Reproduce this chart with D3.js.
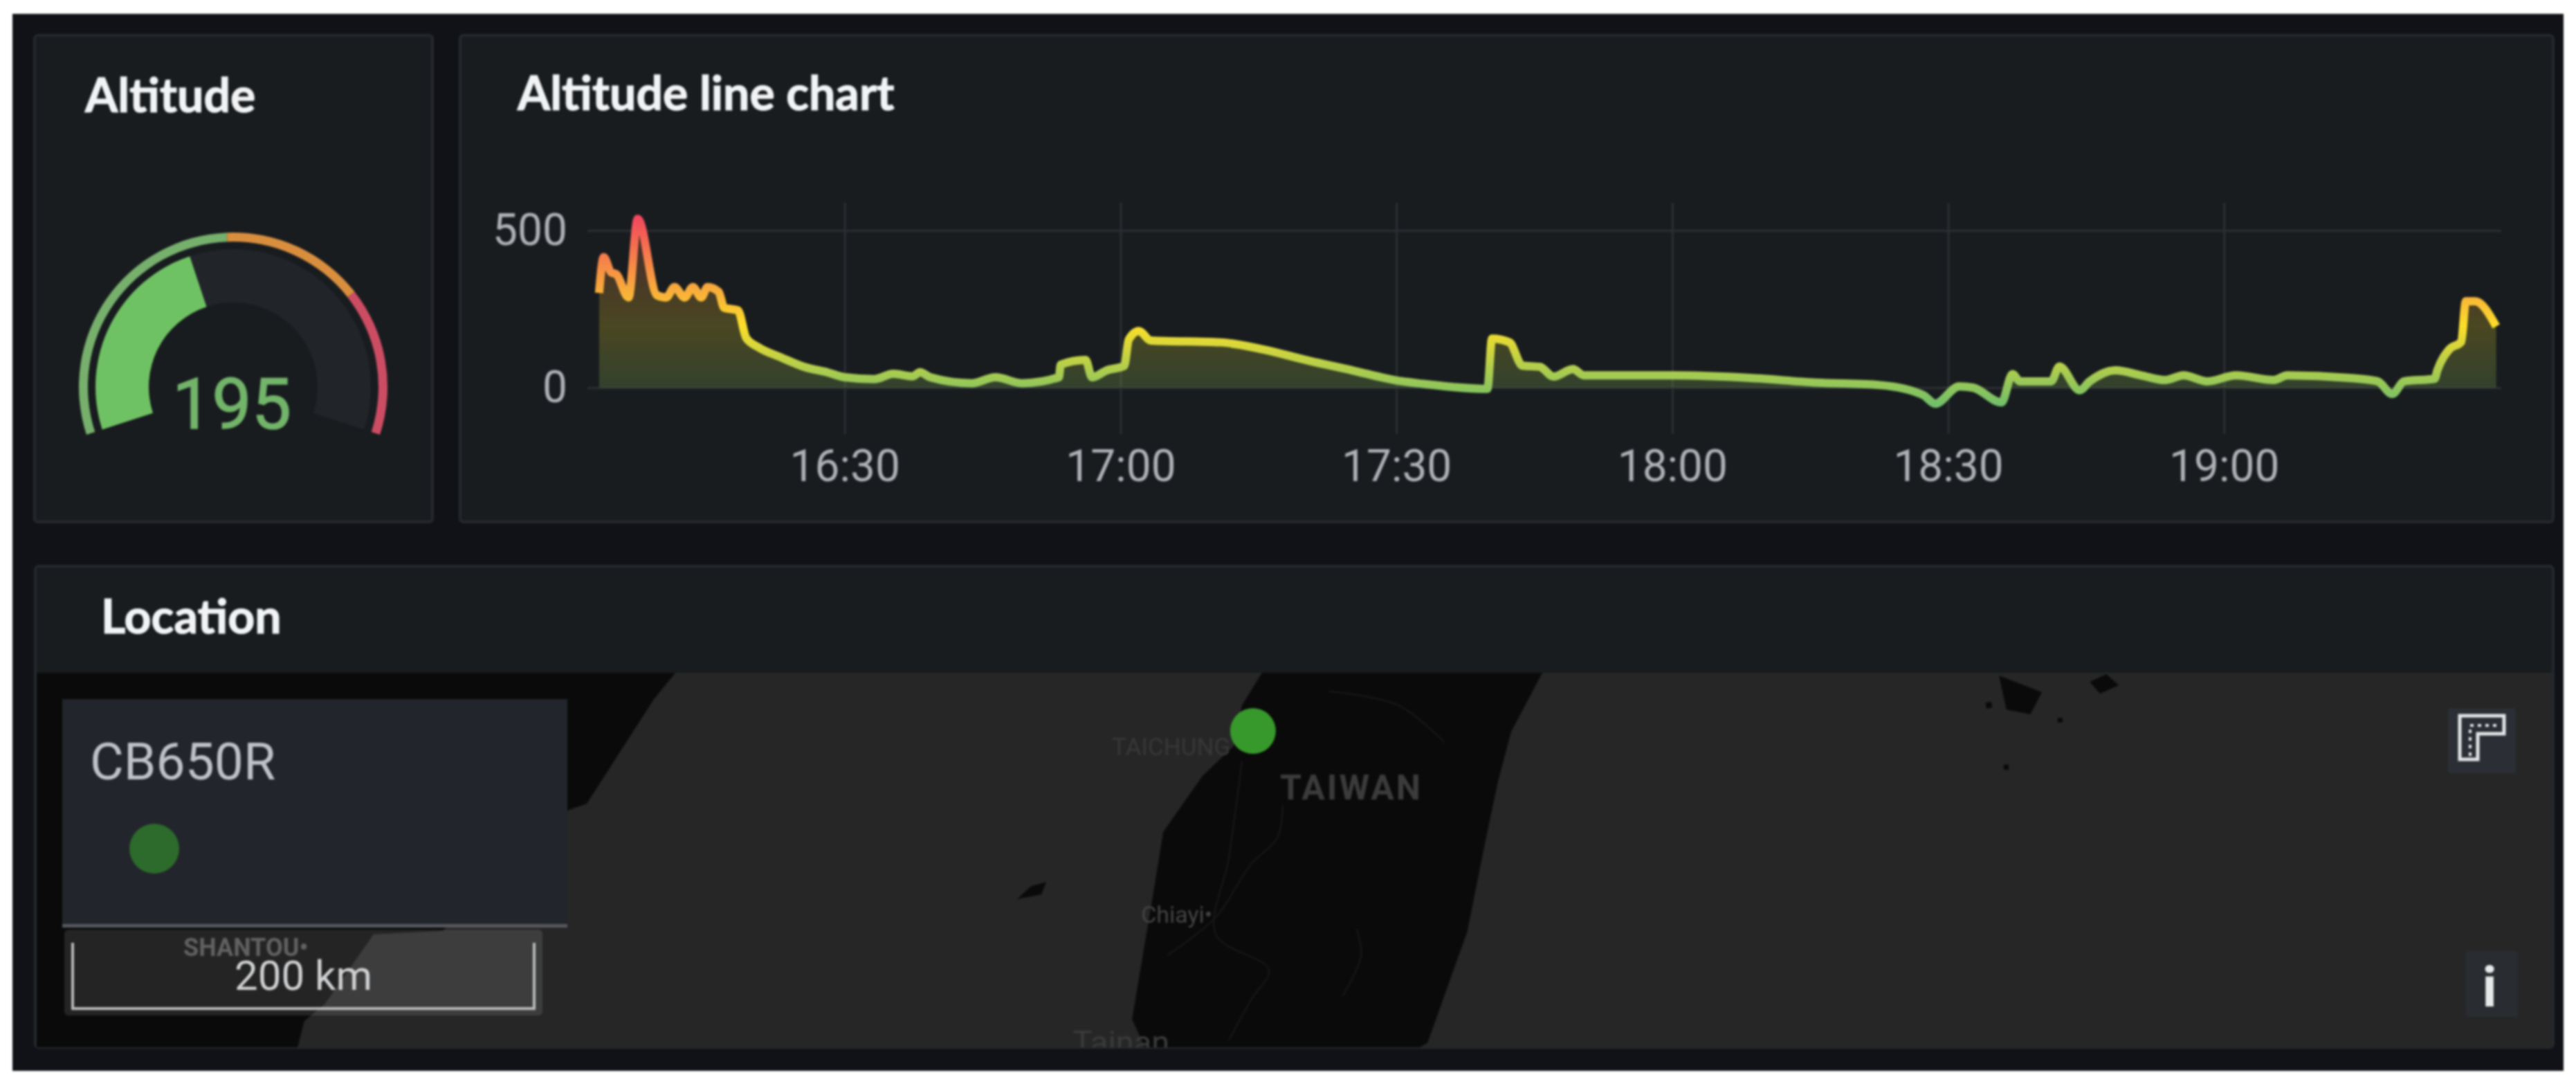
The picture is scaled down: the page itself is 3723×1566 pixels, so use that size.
<!DOCTYPE html>
<html>
<head>
<meta charset="utf-8">
<title>Altitude dashboard</title>
<script src="https://cdn.jsdelivr.net/npm/d3@7"></script>
<style>
  html, body { margin: 0; padding: 0; background: #fff; }
  svg { display: block; filter: blur(1.6px); }
  .panel-title { font-family: Lato, sans-serif; font-weight: 700; font-size: 68px; fill: #f2f3f4; stroke: #f2f3f4; stroke-width: 1.2px; }
  .axis text { font-family: Roboto, sans-serif; font-size: 64px; fill: #aeb0b5; }
  .axis line { stroke: #2b2e32; stroke-width: 3; }
  .axis .domain { display: none; }
</style>
</head>
<body>
<script>
// Altitude series: minutes after 16:00 and metres
const minutes = [3.3, 3.8, 4.6, 5.2, 6.5, 7.5, 9.6, 10.6, 11.5, 12.6, 13.5, 14.4, 15.1, 16.3, 16.9, 18.4, 19.3, 20.6, 23.1, 25.6, 28.2, 30, 33.2, 35.3, 37.4, 38.2, 39.3, 43.8, 46.4, 49.3, 53.3, 53.5, 56.2, 56.9, 58.5, 60.4, 60.9, 62, 63.3, 70.9, 75.6, 80.4, 85.2, 90, 92.9, 99.9, 100.4, 102.3, 103.7, 105.6, 107.1, 109.2, 110.4, 120.3, 128.4, 135.6, 142.6, 147.3, 148.6, 151.2, 152.7, 155.8, 157, 157.8, 161.2, 162.1, 164.3, 165.4, 168.2, 171, 173.6, 175.6, 178.2, 181.3, 185.4, 186.9, 193.6, 196.7, 198.3, 199.6, 202.9, 203.2, 204.5, 205.8, 206.3, 207.3, 209.6]
const altitude = [301, 415, 367, 360, 287, 537, 294, 287, 320, 287, 320, 287, 320, 305, 254, 246, 158, 129, 96, 66, 48, 33, 27, 44, 36, 49, 33, 14, 33, 14, 33, 73, 88, 33, 55, 69, 153, 180, 150, 144, 121, 86, 55, 23, 12, -4, 156, 144, 70, 66, 35, 59, 39, 39, 31, 16, 8, -24, -51, 4, 0, -47, 43, 20, 20, 67, -8, 20, 55, 39, 24, 39, 20, 39, 24, 39, 31, 20, -20, 20, 28, 55, 122, 146, 275, 275, 195]
const xTickLabels = ["16:30", "17:00", "17:30", "18:00", "18:30", "19:00"]
const yTickValues = [0, 500]

// Gauge
const gaugeValue = 195
const gaugeDomain = [0, 470]
const thresholdBreaks = [0, 230, 348, 470]
const thresholdColors = ["#76b06c", "#d98e3e", "#cc4d63"]

// Map features, in km from the top left corner of the map
const chinaCoast = [[0, 0], [276.8, 0], [267.5, 11.4], [238.4, 56.7], [230.6, 59.4], [176, 111.8], [146, 113.3], [125, 143.3], [116, 150.8], [113, 162.5], [0, 162.5]]
const taiwanCoast = [[531, 0], [652.5, 0], [639, 25.5], [633.3, 47], [627.6, 74], [620, 112], [602.7, 160.4], [598.8, 162.5], [480.4, 162.5], [474.7, 150], [484.3, 93], [488.2, 69], [505.2, 44.7], [518.7, 31.8], [522.3, 14.1]]
const islands = [
  [[424.9, 98], [430.9, 92.4], [437.5, 90.6], [435.4, 96]],
  [[850.4, 1.2], [869, 8.4], [864, 18], [853.6, 15.9]],
  [[889.7, 3.9], [897, 0.6], [902.3, 5.4], [894.2, 9]],
  [[844.5, 13], [847, 12.5], [847.5, 15], [845, 15.5]],
  [[875.8, 19.5], [878, 19.5], [878, 21.5], [875.8, 21.5]],
  [[852.4, 39.8], [854.6, 39.8], [854.6, 42], [852.4, 42]],
]
const roads = [
  [[540, 57.3], [537.7, 71.4], [526.3, 82.8], [511, 105.8], [490, 122.3]],
  [[522.3, 38.4], [516.6, 80.4], [511, 113.3], [534, 128.6], [526.3, 141.5], [516.6, 159.2]],
  [[572, 111], [574, 122.3], [566, 140]],
  [[560, 8], [590, 14], [610, 30]],
]
const mapLabels = [
  { text: "TAICHUNG", km: [466, 35.7], size: 35, weight: 400, color: "#373737", spacing: 0 },
  { text: "TAIWAN", km: [538.8, 54.9], size: 50, weight: 700, color: "#3b3b3b", spacing: 3 },
  { text: "Chiayi•", km: [478.6, 108.2], size: 34, weight: 400, color: "#434343", spacing: 0 },
  { text: "Tainan", km: [449, 165], size: 47, weight: 400, color: "#3a3a3a", spacing: 0 },
  { text: "SHANTOU•", km: [63.6, 122.6], size: 36, weight: 700, color: "#4e4e4e", spacing: 0 },
]
const deviceName = "CB650R"
const deviceKm = [527.1, 25.2]
const scaleBarKm = 200

const width = 3723,
  height = 1566

const svg = d3.select("body").append("svg").attr("width", width).attr("height", height)
const defs = svg.append("defs")

svg.append("rect").attr("x", 18).attr("y", 20).attr("width", 3687).attr("height", 1527).attr("fill", "#111217")

// Panels
const panels = [
  { x: 50, y: 51, w: 575, h: 703, title: "Altitude", tx: 123, ty: 162 },
  { x: 665, y: 51, w: 3025, h: 703, title: "Altitude line chart", tx: 748, ty: 159 },
  { x: 51, y: 818, w: 3639, h: 695, title: "Location", tx: 146, ty: 915 },
]
panels.forEach((p) => {
  svg
    .append("rect")
    .attr("x", p.x)
    .attr("y", p.y)
    .attr("width", p.w)
    .attr("height", p.h)
    .attr("rx", 5)
    .attr("fill", "#181c1f")
    .attr("stroke", "#25282d")
    .attr("stroke-width", 4)
  svg.append("text").attr("class", "panel-title").attr("x", p.tx).attr("y", p.ty).text(p.title)
})

// Gauge
const gauge = svg.append("g").attr("transform", "translate(337,559)")
const gaugeAngle = d3
  .scaleLinear()
  .domain(gaugeDomain)
  .range([(-108 * Math.PI) / 180, (108 * Math.PI) / 180])
const arc = d3.arc()

gauge
  .append("path")
  .attr("fill", "#212429")
  .attr("d", arc({ innerRadius: 122, outerRadius: 199, startAngle: gaugeAngle(gaugeDomain[0]), endAngle: gaugeAngle(gaugeDomain[1]) }))
gauge
  .append("path")
  .attr("fill", "#6fc263")
  .attr("d", arc({ innerRadius: 122, outerRadius: 199, startAngle: gaugeAngle(gaugeDomain[0]), endAngle: gaugeAngle(gaugeValue) }))
thresholdColors.forEach((color, i) => {
  gauge
    .append("path")
    .attr("fill", color)
    .attr("d", arc({ innerRadius: 210, outerRadius: 223, startAngle: gaugeAngle(thresholdBreaks[i]), endAngle: gaugeAngle(thresholdBreaks[i + 1]) }))
})
gauge
  .append("text")
  .attr("x", -2)
  .attr("y", 60)
  .attr("text-anchor", "middle")
  .attr("font-family", "Roboto, sans-serif")
  .attr("font-size", 102)
  .attr("fill", "#72b469")
  .attr("stroke", "#72b469")
  .attr("stroke-width", 1.5)
  .text(gaugeValue)

// Line chart
const toTime = d3.timeParse("%H:%M")
const startTime = toTime("16:00")
const atMinute = (m) => new Date(+startTime + m * 60000)
const series = minutes.map((m, i) => ({ time: atMinute(m), value: altitude[i] }))

const x = d3
  .scaleTime()
  .domain([toTime("16:00"), toTime("19:30")])
  .range([822, 3613])
const y = d3.scaleLinear().domain([0, 500]).range([560, 333])

const [gridLeft, gridRight, gridTop, gridBottom] = [849, 3615, 293, 627]

svg
  .append("g")
  .attr("class", "axis")
  .attr("transform", `translate(0,${gridBottom})`)
  .call(
    d3
      .axisBottom(x)
      .tickValues(xTickLabels.map(toTime))
      .tickFormat(d3.timeFormat("%H:%M"))
      .tickSize(-(gridBottom - gridTop))
      .tickPadding(23),
  )
svg
  .append("g")
  .attr("class", "axis")
  .attr("transform", `translate(${gridLeft},0)`)
  .call(d3.axisLeft(y).tickValues(yTickValues).tickSize(-(gridRight - gridLeft)).tickPadding(29))

// Green to yellow to red by height, as in the Grafana continuous scheme
const gradient = defs
  .append("linearGradient")
  .attr("id", "altitude-gradient")
  .attr("gradientUnits", "userSpaceOnUse")
  .attr("x1", 0)
  .attr("x2", 0)
  .attr("y1", y(d3.min(altitude)))
  .attr("y2", y(d3.max(altitude)))
gradient.append("stop").attr("offset", "0%").attr("stop-color", "#73bf69")
gradient.append("stop").attr("offset", "42%").attr("stop-color", "#fade2a")
gradient.append("stop").attr("offset", "100%").attr("stop-color", "#f2495c")

svg
  .append("path")
  .datum(series)
  .attr("fill", "url(#altitude-gradient)")
  .attr("fill-opacity", 0.22)
  .attr(
    "d",
    d3
      .area()
      .curve(d3.curveMonotoneX)
      .x((d) => x(d.time))
      .y0(y(0))
      .y1((d) => y(Math.max(d.value, 0))),
  )
svg
  .append("path")
  .datum(series)
  .attr("fill", "none")
  .attr("stroke", "url(#altitude-gradient)")
  .attr("stroke-width", 12)
  .attr("stroke-linejoin", "round")
  .attr(
    "d",
    d3
      .line()
      .curve(d3.curveMonotoneX)
      .x((d) => x(d.time))
      .y((d) => y(d.value)),
  )

// Map
const mapLeft = 53,
  mapTop = 972,
  mapRight = 3688,
  mapBottom = 1513
const pxPerKm = 3.335
const mapX = d3
  .scaleLinear()
  .domain([0, (mapRight - mapLeft) / pxPerKm])
  .range([mapLeft, mapRight])
const mapY = d3
  .scaleLinear()
  .domain([0, (mapBottom - mapTop) / pxPerKm])
  .range([mapTop, mapBottom])
const mapLine = d3
  .line()
  .x((d) => mapX(d[0]))
  .y((d) => mapY(d[1]))

defs
  .append("clipPath")
  .attr("id", "map-clip")
  .append("rect")
  .attr("x", mapLeft)
  .attr("y", mapTop)
  .attr("width", mapRight - mapLeft)
  .attr("height", mapBottom - mapTop)

const map = svg.append("g").attr("clip-path", "url(#map-clip)")
map
  .append("rect")
  .attr("x", mapLeft)
  .attr("y", mapTop)
  .attr("width", mapRight - mapLeft)
  .attr("height", mapBottom - mapTop)
  .attr("fill", "#262626")

map
  .selectAll(".land")
  .data([chinaCoast, taiwanCoast, ...islands])
  .enter()
  .append("path")
  .attr("class", "land")
  .attr("fill", "#0a0a0a")
  .attr("d", (d) => mapLine(d) + "Z")

map
  .selectAll(".road")
  .data(roads)
  .enter()
  .append("path")
  .attr("class", "road")
  .attr("fill", "none")
  .attr("stroke", "#191919")
  .attr("stroke-width", 2)
  .attr("d", mapLine.curve(d3.curveCatmullRom))
mapLine.curve(d3.curveLinear)

map
  .selectAll(".place")
  .data(mapLabels)
  .enter()
  .append("text")
  .attr("class", "place")
  .attr("x", (d) => mapX(d.km[0]))
  .attr("y", (d) => mapY(d.km[1]))
  .attr("font-family", "Roboto, sans-serif")
  .attr("font-size", (d) => d.size)
  .attr("font-weight", (d) => d.weight)
  .attr("letter-spacing", (d) => d.spacing)
  .attr("fill", (d) => d.color)
  .text((d) => d.text)

map
  .append("circle")
  .attr("cx", mapX(deviceKm[0]))
  .attr("cy", mapY(deviceKm[1]))
  .attr("r", 33)
  .attr("fill", "#37982b")

// Legend box
svg.append("rect").attr("x", 90).attr("y", 1010).attr("width", 730).attr("height", 327).attr("fill", "#22252b")
svg.append("rect").attr("x", 90).attr("y", 1335).attr("width", 730).attr("height", 5).attr("fill", "#56585d")
svg
  .append("text")
  .attr("x", 130)
  .attr("y", 1126)
  .attr("font-family", "Roboto, sans-serif")
  .attr("font-size", 75)
  .attr("fill", "#bfc1c6")
  .text(deviceName)
svg.append("circle").attr("cx", 223).attr("cy", 1226).attr("r", 36).attr("fill", "#2c6b2c")

// Scale bar
const barLeft = 105
const barRight = barLeft + (mapX(scaleBarKm) - mapX(0))
svg
  .append("rect")
  .attr("x", barLeft - 12)
  .attr("y", 1343)
  .attr("width", barRight - barLeft + 24)
  .attr("height", 124)
  .attr("rx", 6)
  .attr("fill", "#ffffff")
  .attr("fill-opacity", 0.11)
svg
  .append("path")
  .attr("fill", "none")
  .attr("stroke", "#b9bbbc")
  .attr("stroke-width", 4)
  .attr("d", d3.line()([[barLeft, 1362], [barLeft, 1457], [barRight, 1457], [barRight, 1362]]))
svg
  .append("text")
  .attr("x", (barLeft + barRight) / 2)
  .attr("y", 1430)
  .attr("text-anchor", "middle")
  .attr("font-family", "Roboto, sans-serif")
  .attr("font-size", 60)
  .attr("fill", "#cfd0d2")
  .text(`${scaleBarKm} km`)

// Map controls
svg.append("rect").attr("x", 3538).attr("y", 1023).attr("width", 98).attr("height", 94).attr("rx", 4).attr("fill", "#2b2e34")
svg
  .append("path")
  .attr("fill", "none")
  .attr("stroke", "#e4e5e7")
  .attr("stroke-width", 5)
  .attr("d", "M3555,1034H3619V1060H3581V1097H3555Z")
svg
  .append("path")
  .attr("fill", "none")
  .attr("stroke", "#e4e5e7")
  .attr("stroke-width", 4)
  .attr("stroke-dasharray", "5 6")
  .attr("d", "M3570,1092V1048H3612")
svg.append("rect").attr("x", 3564).attr("y", 1374).attr("width", 75).attr("height", 95).attr("rx", 4).attr("fill", "#292c31")
svg
  .append("text")
  .attr("x", 3598)
  .attr("y", 1454)
  .attr("text-anchor", "middle")
  .attr("font-family", "Roboto, sans-serif")
  .attr("font-weight", 700)
  .attr("font-size", 82)
  .attr("fill", "#e8e9ea")
  .text("i")
</script>
</body>
</html>
